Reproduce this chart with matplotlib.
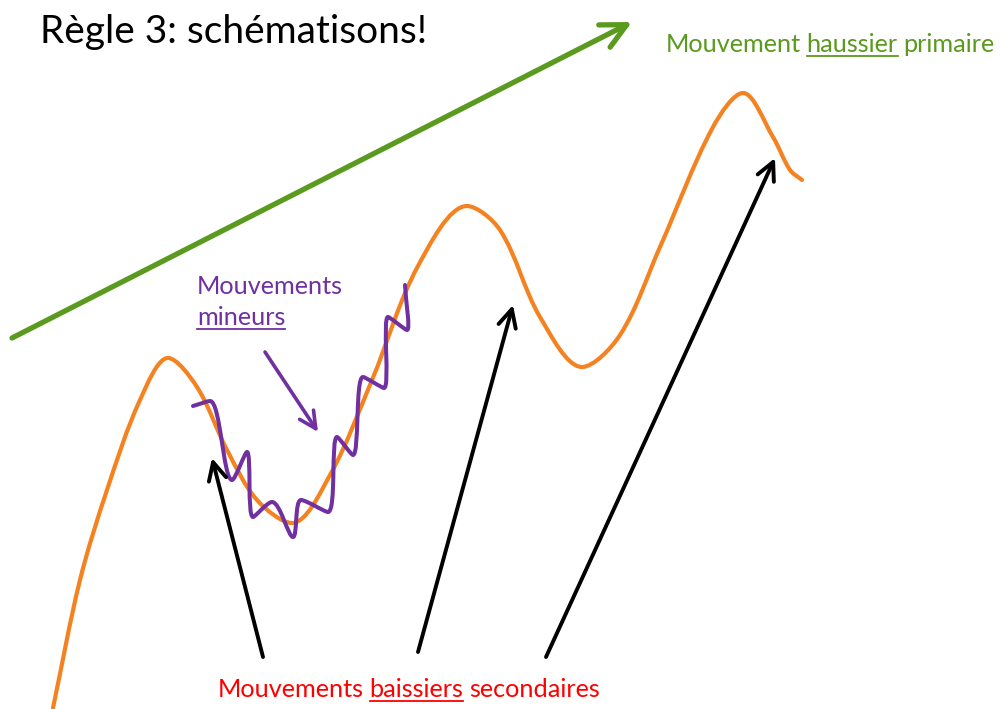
import matplotlib
matplotlib.use("Agg")
import matplotlib.pyplot as plt
from matplotlib.path import Path
from matplotlib.patches import PathPatch
import numpy as np

# ---------------- data (pixel space) ----------------
title_text = "Règle 3: schématisons!"
green_label = ["Mouvement", "haussier", "primaire"]
purple_label = ["Mouvements", "mineurs"]
red_label = ["Mouvements", "baissiers", "secondaires"]

# primary/secondary trend curve (orange)
orange_x = [53, 80, 107, 140, 168, 197, 227, 257, 292, 330, 372, 418, 467,
            500, 540, 582, 620, 660, 713, 743, 773, 790, 802]
orange_y = [708, 580, 490, 400, 358, 387, 450, 500, 523, 475, 380, 266, 206,
            230, 317, 367, 335, 247, 127, 93, 137, 170, 180]

# minor movements (purple wiggle) – turning points
purple_x = [193, 210, 232, 247, 253, 272, 293, 301, 328, 337, 353, 363, 384, 388, 407, 405]
purple_y = [406, 401, 480, 452, 517, 502, 537, 500, 512, 437, 455, 377, 388, 317, 330, 285]

# arrows: (x_start, y_start) -> (x_tip, y_tip)
green_arrow = [(12, 338), (632, 22)]
purple_arrow = [(265, 352), (318, 432)]
black_arrows_start = [(263, 657), (418, 652), (546, 657)]
black_arrows_tip = [(212, 458), (513, 305), (775, 158)]

# ---------------- styling ----------------
FONT = "Lato"
C_ORANGE = "#F58220"
C_PURPLE = "#7030A0"
C_GREEN = "#5A9A1E"
C_RED = "#FF0000"

fig = plt.figure(figsize=(10, 7.09), dpi=100)
ax = fig.add_axes([0, 0, 1, 1])
ax.set_xlim(0, 1000)
ax.set_ylim(709, 0)
ax.axis("off")


def smooth_path(xs, ys):
    pts = np.column_stack([xs, ys]).astype(float)
    n = len(pts)
    d = np.hypot(*np.diff(pts, axis=0).T)  # segment lengths
    vel = np.zeros_like(pts)
    for i in range(n):
        if i == 0:
            vel[i] = (pts[1] - pts[0]) / d[0]
        elif i == n - 1:
            vel[i] = (pts[-1] - pts[-2]) / d[-1]
        else:
            vel[i] = (pts[i + 1] - pts[i - 1]) / (d[i - 1] + d[i])
            # horizontal tangent at turning points
            if (pts[i][1] - pts[i - 1][1]) * (pts[i + 1][1] - pts[i][1]) < 0:
                vel[i][1] = 0.0
    verts = [pts[0]]
    codes = [Path.MOVETO]
    for i in range(n - 1):
        verts += [pts[i] + vel[i] * d[i] / 3.0,
                  pts[i + 1] - vel[i + 1] * d[i] / 3.0,
                  pts[i + 1]]
        codes += [Path.CURVE4] * 3
    return Path(verts, codes)


ax.add_patch(PathPatch(smooth_path(orange_x, orange_y), fill=False,
                       edgecolor=C_ORANGE, lw=3.0, capstyle="round", zorder=2))
ax.add_patch(PathPatch(smooth_path(purple_x, purple_y), fill=False,
                       edgecolor=C_PURPLE, lw=2.9, capstyle="round", joinstyle="round", zorder=3))


def arrow(start, tip, color, lw, hl, hw, ms):
    ax.annotate("", xy=tip, xytext=start,
                arrowprops=dict(arrowstyle=f"->,head_length={hl},head_width={hw}",
                                color=color, lw=lw, mutation_scale=ms,
                                shrinkA=0, shrinkB=0), zorder=4)


arrow(green_arrow[0], green_arrow[1], C_GREEN, 3.8, 0.9, 0.45, 20)
arrow(purple_arrow[0], purple_arrow[1], C_PURPLE, 2.6, 0.8, 0.4, 15)
for s, t in zip(black_arrows_start, black_arrows_tip):
    arrow(s, t, "black", 2.8, 0.8, 0.4, 16)

renderer = fig.canvas.get_renderer()


def place(x, y, parts, color, size, underline=()):
    cur = x
    space = size * 100 / 72 * 0.22
    for i, p in enumerate(parts):
        t = ax.text(cur, y, p, color=color, fontsize=size, family=FONT,
                    va="baseline", ha="left", zorder=5)
        bb = t.get_window_extent(renderer)
        x0, x1 = bb.x0, bb.x1
        if i in underline:
            ax.plot([x0, x1], [y + 4, y + 4], color=color, lw=1.3, zorder=5)
        cur = x1 + space


ax.text(40, 43, title_text, color="black", fontsize=28, family=FONT,
        va="baseline", ha="left")
place(666, 52, green_label, C_GREEN, 18.2, underline=(1,))
place(197, 294, purple_label[:1], C_PURPLE, 18.2)
place(197, 325, purple_label[1:], C_PURPLE, 18.2, underline=(0,))
place(218, 697, red_label, C_RED, 18.2, underline=(1,))

fig.savefig("out.png", dpi=100)
